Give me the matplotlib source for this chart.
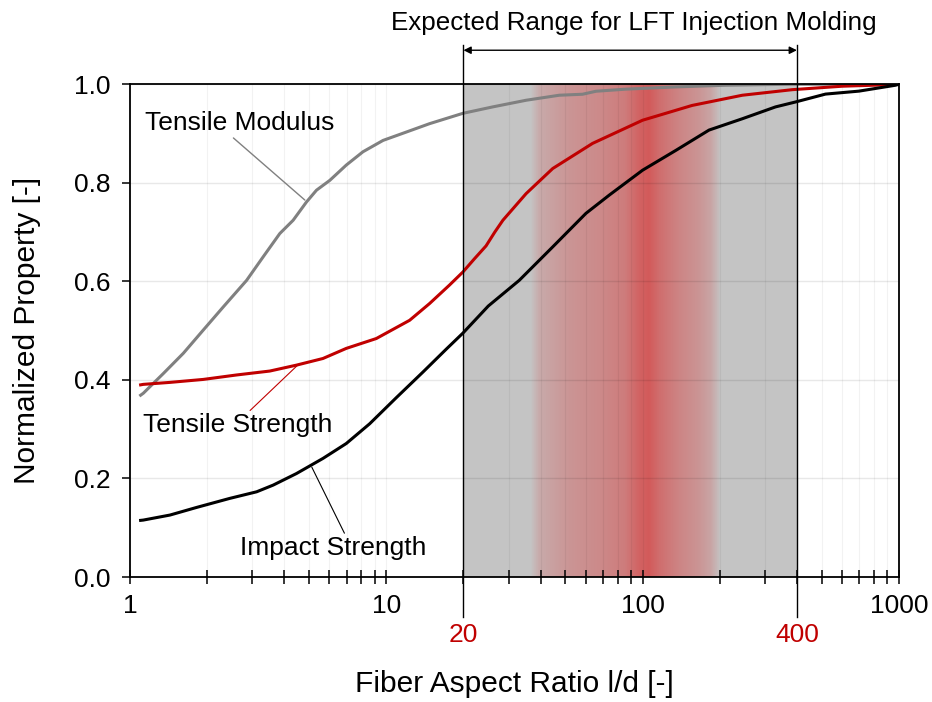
import numpy as np
import matplotlib
matplotlib.use('Agg')
import matplotlib.pyplot as plt
from matplotlib.colors import LinearSegmentedColormap
import matplotlib.transforms as mtransforms

plt.rcParams['font.family'] = ['Liberation Sans', 'DejaVu Sans']

# tensile modulus (gray)
mod_x = [1.1, 1.127, 1.349, 1.614, 1.93, 2.31, 2.85, 3.31, 3.84, 4.33, 4.88, 5.34, 6.02, 6.98,
         8.11, 9.71, 11.97, 14.75, 19.9, 26.0, 35.1, 47.3, 58.3, 65.8, 86, 135, 211, 381, 1000]
mod_y = [0.369, 0.373, 0.413, 0.454, 0.501, 0.548, 0.602, 0.650, 0.697, 0.724, 0.761, 0.785, 0.805, 0.836,
         0.863, 0.886, 0.903, 0.920, 0.941, 0.954, 0.9675, 0.9777, 0.9797, 0.9858, 0.990, 0.9946, 0.998, 1.0, 1.0]

# tensile strength (red)
str_x = [1.1, 1.127, 1.432, 1.93, 2.60, 3.51, 4.46, 5.66, 6.98, 9.14, 12.33, 14.75, 17.6, 19.9,
         22, 24.5, 26.5, 28.5, 35.1, 44.6, 63.8, 100, 156, 245, 384, 601, 914, 1000]
str_y = [0.390, 0.391, 0.395, 0.401, 0.410, 0.418, 0.430, 0.4435, 0.464, 0.484, 0.521, 0.555, 0.592, 0.619,
         0.645, 0.672, 0.700, 0.724, 0.778, 0.829, 0.880, 0.927, 0.957, 0.9777, 0.989, 0.996, 0.999, 1.0]

# impact strength (black)
imp_x = [1.1, 1.127, 1.432, 1.82, 2.45, 3.12, 3.62, 4.46, 5.66, 6.98, 8.61, 10.94, 13.9, 17.1, 19.9,
         25, 33, 44.6, 60.1, 74.1, 100, 135, 181.6, 245, 330, 395, 517, 698, 970, 1000]
imp_y = [0.115, 0.1156, 0.1258, 0.1413, 0.1596, 0.173, 0.1866, 0.210, 0.2407, 0.271, 0.311, 0.364, 0.416, 0.462, 0.495,
         0.55, 0.602, 0.670, 0.738, 0.775, 0.8256, 0.866, 0.907, 0.930, 0.954, 0.964, 0.980, 0.986, 0.998, 1.0]

# LFT range and red intensity profile across it
range_lo, range_hi = 20, 400
band_x = [20, 36.5, 39.6, 51.8, 67.8, 84.8, 97, 106, 116, 139, 166, 185, 202, 400]
band_a = [0, 0, 0.25, 0.45, 0.55, 0.68, 0.92, 1.0, 0.82, 0.6, 0.45, 0.3, 0, 0]

fig = plt.figure(figsize=(9.32, 7.02), dpi=100)
ax = fig.add_axes([0.1395, 0.178, 0.825, 0.702])

# shaded range with red gradient
xe = np.logspace(np.log10(range_lo), np.log10(range_hi), 500)
xm = np.sqrt(xe[:-1] * xe[1:])
a = np.interp(np.log10(xm), np.log10(band_x), band_a)
cmap = LinearSegmentedColormap.from_list('band', ['#c4c4c4', '#d25a5a'])
ax.pcolormesh(xe, [0, 1], a[np.newaxis, :], cmap=cmap, vmin=0, vmax=1,
              shading='flat', zorder=0.5, rasterized=True)

ax.grid(True, which='major', axis='y', color='k', alpha=0.09, lw=1.0, zorder=0.8)
ax.grid(True, which='both', axis='x', color='k', alpha=0.05, lw=0.8, zorder=0.8)
ax.set_axisbelow(False)

ax.plot(mod_x, mod_y, color='#808080', lw=2.2, zorder=3)
ax.plot(str_x, str_y, color='#c00000', lw=2.2, zorder=3)
ax.plot(imp_x, imp_y, color='black', lw=2.2, zorder=3)

ax.set_xscale('log')
ax.set_xlim(1, 1000)
ax.set_ylim(0, 1)
ax.set_yticks(np.arange(0, 1.01, 0.2))
ax.set_yticklabels(['%.1f' % v for v in np.arange(0, 1.01, 0.2)])
ax.set_xticks([1, 10, 100, 1000])
ax.set_xticklabels(['1', '10', '100', '1000'])
ax.tick_params(axis='x', which='both', direction='inout', length=10, width=1.1,
               labelsize=19, pad=7)
ax.tick_params(axis='x', which='minor', labelbottom=False)
ax.tick_params(axis='y', direction='out', length=6, width=1.1, labelsize=19, pad=8)
for s in ax.spines.values():
    s.set_linewidth(1.3)
    s.set_zorder(4)

ax.set_xlabel('Fiber Aspect Ratio l/d [-]', fontsize=21.5, labelpad=38)
ax.set_ylabel('Normalized Property [-]', fontsize=21.5, labelpad=24)

# range markers
trans = mtransforms.blended_transform_factory(ax.transData, ax.transAxes)
for xv in (range_lo, range_hi):
    ax.plot([xv, xv], [-0.081, 1.079], color='black', lw=1.0, transform=trans,
            clip_on=False, zorder=5)
    ax.text(xv, -0.118, str(xv), color='#c00000', fontsize=19, ha='center', va='center',
            transform=trans)
ax.annotate('', xy=(range_lo, 1.069), xytext=(range_hi, 1.069), xycoords=trans,
            textcoords=trans,
            arrowprops=dict(arrowstyle='<|-|>', color='black', lw=1.0,
                            mutation_scale=11, shrinkA=0, shrinkB=0))
ax.text(0.655, 1.124, 'Expected Range for LFT Injection Molding', fontsize=18.7,
        ha='center', va='center', transform=ax.transAxes)

# curve labels
ax.annotate('Tensile Modulus', xy=(4.81, 0.765), xytext=(1.144, 0.921), fontsize=19,
            ha='left', va='center', zorder=6,
            arrowprops=dict(arrowstyle='-', color='#808080', lw=1.0,
                            shrinkA=0, shrinkB=0, relpos=(0.45, 0)))
ax.annotate('Tensile Strength', xy=(4.51, 0.430), xytext=(1.124, 0.308), fontsize=19,
            ha='left', va='center', zorder=6,
            arrowprops=dict(arrowstyle='-', color='#c00000', lw=0.8,
                            shrinkA=0, shrinkB=0, relpos=(0.55, 1)))
ax.annotate('Impact Strength', xy=(5.12, 0.223), xytext=(6.18, 0.059), fontsize=19,
            ha='center', va='center', zorder=6,
            arrowprops=dict(arrowstyle='-', color='black', lw=0.8,
                            shrinkA=0, shrinkB=0, relpos=(0.57, 1)))

fig.savefig('out.png', dpi=100)
